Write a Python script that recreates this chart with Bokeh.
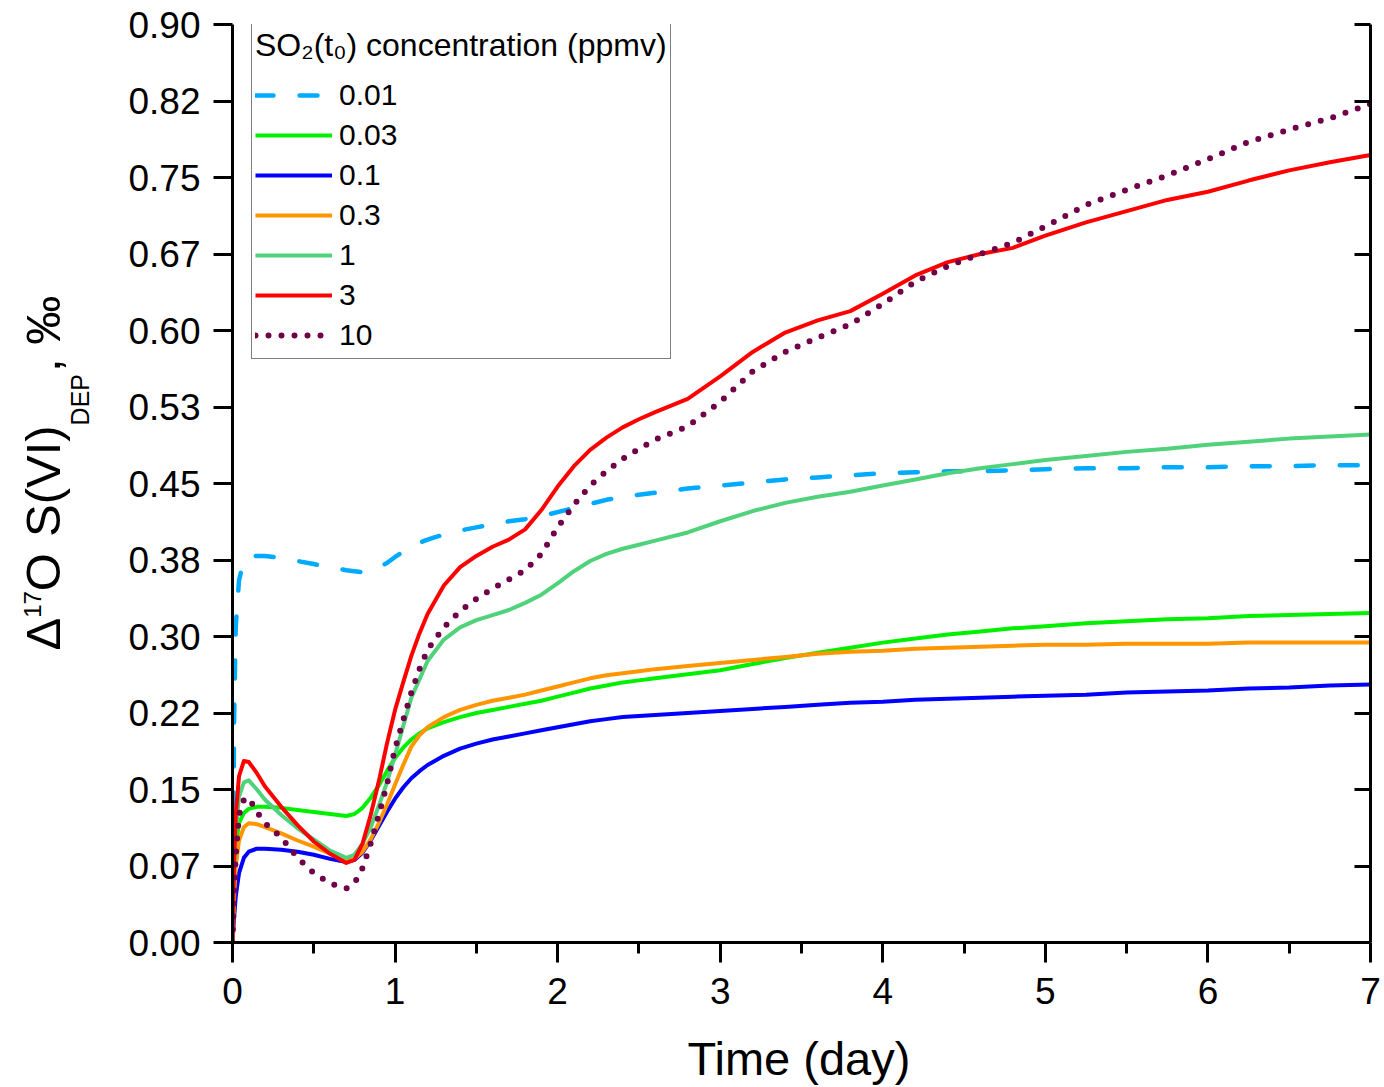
import math
from bokeh.plotting import figure
from bokeh.layouts import row, column
from bokeh.models import Range1d, LinearAxis, FixedTicker, Legend, LegendItem, Label
from bokeh.embed import file_html
from bokeh.resources import INLINE

# ---------------- data ----------------
time_day = [0, 0.01, 0.02, 0.04, 0.07, 0.1, 0.15, 0.2, 0.3, 0.4,
            0.5, 0.6, 0.7, 0.75, 0.8, 0.85, 0.9, 0.95, 1.0, 1.05,
            1.1, 1.15, 1.2, 1.3, 1.4, 1.5, 1.6, 1.7, 1.8, 1.9,
            2.0, 2.1, 2.2, 2.3, 2.4, 2.5, 2.6, 2.8, 3.0, 3.2,
            3.4, 3.6, 3.8, 4.0, 4.2, 4.4, 4.6, 4.8, 5.0, 5.25,
            5.5, 5.75, 6.0, 6.25, 6.5, 6.75, 7.0]

so2_0p01 = [0.0, 0.22, 0.31, 0.355, 0.375, 0.378, 0.379, 0.379, 0.377, 0.374,
            0.371, 0.368, 0.365, 0.364, 0.363, 0.364, 0.368, 0.372, 0.378, 0.383,
            0.388, 0.392, 0.395, 0.400, 0.404, 0.407, 0.410, 0.413, 0.415, 0.418,
            0.422, 0.426, 0.430, 0.434, 0.437, 0.439, 0.441, 0.445, 0.448, 0.451,
            0.454, 0.456, 0.458, 0.460, 0.461, 0.462, 0.462, 0.463, 0.464, 0.465,
            0.465, 0.466, 0.466, 0.467, 0.467, 0.468, 0.468]

so2_0p03 = [0.0, 0.06, 0.095, 0.117, 0.127, 0.131, 0.133, 0.133, 0.132, 0.130,
            0.128, 0.126, 0.124, 0.126, 0.132, 0.142, 0.154, 0.168, 0.181, 0.191,
            0.199, 0.205, 0.210, 0.216, 0.221, 0.225, 0.228, 0.231, 0.234, 0.237,
            0.241, 0.245, 0.249, 0.252, 0.255, 0.257, 0.259, 0.263, 0.267, 0.273,
            0.279, 0.284, 0.289, 0.294, 0.298, 0.302, 0.305, 0.308, 0.310, 0.313,
            0.315, 0.317, 0.318, 0.320, 0.321, 0.322, 0.323]

so2_0p1 = [0.0, 0.025, 0.045, 0.068, 0.083, 0.089, 0.092, 0.092, 0.091, 0.089,
           0.086, 0.082, 0.079, 0.081, 0.088, 0.100, 0.114, 0.128, 0.141, 0.152,
           0.161, 0.168, 0.174, 0.183, 0.190, 0.195, 0.199, 0.202, 0.205, 0.208,
           0.211, 0.214, 0.217, 0.219, 0.221, 0.222, 0.223, 0.225, 0.227, 0.229,
           0.231, 0.233, 0.235, 0.236, 0.238, 0.239, 0.240, 0.241, 0.242, 0.243,
           0.245, 0.246, 0.247, 0.249, 0.250, 0.252, 0.253]

so2_0p3 = [0.0, 0.045, 0.075, 0.100, 0.113, 0.117, 0.116, 0.113, 0.107, 0.100,
           0.094, 0.087, 0.080, 0.082, 0.089, 0.101, 0.117, 0.135, 0.155, 0.174,
           0.192, 0.203, 0.211, 0.221, 0.228, 0.233, 0.237, 0.240, 0.243, 0.247,
           0.251, 0.255, 0.259, 0.262, 0.264, 0.266, 0.268, 0.271, 0.274, 0.277,
           0.280, 0.283, 0.285, 0.286, 0.288, 0.289, 0.290, 0.291, 0.292, 0.292,
           0.293, 0.293, 0.293, 0.294, 0.294, 0.294, 0.294]

so2_1 = [0.0, 0.07, 0.11, 0.143, 0.157, 0.159, 0.150, 0.140, 0.125, 0.112,
         0.101, 0.090, 0.083, 0.086, 0.097, 0.113, 0.134, 0.157, 0.184, 0.212,
         0.240, 0.258, 0.276, 0.297, 0.309, 0.316, 0.321, 0.326, 0.333, 0.341,
         0.352, 0.364, 0.374, 0.381, 0.386, 0.390, 0.394, 0.402, 0.413, 0.423,
         0.431, 0.437, 0.442, 0.448, 0.454, 0.460, 0.465, 0.469, 0.473, 0.477,
         0.481, 0.484, 0.488, 0.491, 0.494, 0.496, 0.498]

so2_3 = [0.0, 0.08, 0.125, 0.163, 0.178, 0.177, 0.166, 0.153, 0.133, 0.115,
         0.099, 0.087, 0.078, 0.081, 0.097, 0.125, 0.158, 0.195, 0.228, 0.255,
         0.281, 0.303, 0.322, 0.350, 0.368, 0.379, 0.388, 0.395, 0.405, 0.424,
         0.447, 0.467, 0.483, 0.495, 0.505, 0.513, 0.520, 0.533, 0.555, 0.579,
         0.598, 0.610, 0.619, 0.636, 0.654, 0.667, 0.675, 0.681, 0.693, 0.706,
         0.717, 0.728, 0.736, 0.747, 0.757, 0.765, 0.772]

so2_10 = [0.0, 0.05, 0.085, 0.125, 0.140, 0.142, 0.128, 0.117, 0.103, 0.083,
          0.068, 0.058, 0.053, 0.058, 0.073, 0.097, 0.125, 0.155, 0.190, 0.218,
          0.245, 0.268, 0.287, 0.309, 0.325, 0.337, 0.347, 0.356, 0.365, 0.381,
          0.407, 0.429, 0.448, 0.462, 0.474, 0.484, 0.493, 0.506, 0.530, 0.560,
          0.579, 0.593, 0.606, 0.626, 0.648, 0.663, 0.675, 0.686, 0.702, 0.723,
          0.738, 0.752, 0.768, 0.785, 0.797, 0.808, 0.822]

series_labels = ["0.01", "0.03", "0.1", "0.3", "1", "3", "10"]
series_values = [so2_0p01, so2_0p03, so2_0p1, so2_0p3, so2_1, so2_3, so2_10]

y_ticks = [0.0, 0.075, 0.15, 0.225, 0.3, 0.375, 0.45, 0.525, 0.6, 0.675, 0.75, 0.825, 0.9]
y_tick_labels = ["0.00", "0.07", "0.15", "0.22", "0.30", "0.38", "0.45",
                 "0.53", "0.60", "0.67", "0.75", "0.82", "0.90"]
x_ticks = [0, 1, 2, 3, 4, 5, 6, 7]
x_minor_ticks = [0.5, 1.5, 2.5, 3.5, 4.5, 5.5, 6.5]

legend_title = "SO\u2082(t\u2080) concentration (ppmv)"
x_title = "Time (day)"

# ---------------- styles ----------------
FONT = "Liberation Sans"
styles = [
    dict(color="#00AAFF", width=4.5, dash="18 26", cap="round"),
    dict(color="#00F000", width=4, dash="solid", cap="butt"),
    dict(color="#0000FF", width=4, dash="solid", cap="butt"),
    dict(color="#FF9600", width=4, dash="solid", cap="butt"),
    dict(color="#50D27A", width=4, dash="solid", cap="butt"),
    dict(color="#FF0000", width=4, dash="solid", cap="butt"),
    dict(color="#700048", width=6, dash="0 13", cap="round"),
]

LEFT_W = 100          # strip holding the rotated y title
BOTTOM_H = 62         # strip holding the x title
MAIN_W = 1384 - LEFT_W
MAIN_H = 1087 - BOTTOM_H
BORDER_L = 232 - LEFT_W
BORDER_R = 14

p = figure(width=MAIN_W, height=MAIN_H,
           x_range=Range1d(0, 7), y_range=Range1d(0, 0.9),
           output_backend="svg", toolbar_location=None,
           min_border_left=BORDER_L, min_border_right=BORDER_R,
           min_border_top=24, min_border_bottom=MAIN_H - 24 - 918)
p.outline_line_color = None
p.grid.visible = False
p.background_fill_color = "white"

items = []
for lab, vals, st in zip(series_labels, series_values, styles):
    r = p.line(time_day, vals, line_color=st["color"], line_width=st["width"],
               line_dash=st["dash"], line_cap=st["cap"], line_join="round")
    items.append(LegendItem(label=lab, renderers=[r]))

# bottom axis
xa = p.xaxis[0]
xa.ticker = FixedTicker(ticks=x_ticks, minor_ticks=x_minor_ticks)
xa.axis_line_width = 3
xa.axis_line_color = "black"
xa.major_tick_line_width = 3
xa.minor_tick_line_width = 3
xa.major_tick_out = 20
xa.major_tick_in = 0
xa.minor_tick_out = 11
xa.minor_tick_in = 0
xa.major_label_text_font = FONT
xa.major_label_text_font_size = "37px"
xa.major_label_text_color = "black"
xa.major_label_standoff = 15

# left axis
ya = p.yaxis[0]
ya.ticker = FixedTicker(ticks=y_ticks, minor_ticks=[])
ya.major_label_overrides = {t: s for t, s in zip(y_ticks, y_tick_labels)}
ya.axis_line_width = 3
ya.axis_line_color = "black"
ya.major_tick_line_width = 3
ya.major_tick_out = 19
ya.major_tick_in = 0
ya.minor_tick_out = 0
ya.minor_tick_in = 0
ya.major_label_text_font = FONT
ya.major_label_text_font_size = "37px"
ya.major_label_text_color = "black"
ya.major_label_standoff = 13

# right axis (ticks pointing inward, no labels)
ra = LinearAxis(ticker=FixedTicker(ticks=y_ticks, minor_ticks=[]),
                major_label_overrides={t: "" for t in y_ticks},
                axis_line_width=3, axis_line_color="black",
                major_tick_line_width=3, major_tick_in=16, major_tick_out=0,
                minor_tick_in=0, minor_tick_out=0, major_label_standoff=0)
p.add_layout(ra, "right")

# legend
legend = Legend(items=items, location=(19, 583), title=legend_title,
                title_text_font=FONT, title_text_font_size="32px",
                title_text_font_style="normal", title_text_color="black",
                title_standoff=11,
                label_text_font=FONT, label_text_font_size="30px",
                label_text_color="black",
                border_line_color="black", border_line_width=1.5,
                background_fill_color="white", background_fill_alpha=1.0,
                padding=3, spacing=0, margin=0,
                glyph_width=77, glyph_height=40, label_height=40,
                label_standoff=7)
p.add_layout(legend)

# ---------------- strip for the rotated y title ----------------
ylab = figure(width=LEFT_W, height=1087, x_range=Range1d(0, LEFT_W),
              y_range=Range1d(0, 1087), x_axis_type=None, y_axis_type=None,
              output_backend="svg", toolbar_location=None, min_border=0)
ylab.outline_line_color = None
ylab.grid.visible = False

adv = {"Δ": 0.667, "0": 0.556, "1": 0.556, "7": 0.556, "O": 0.778, " ": 0.278,
       "S": 0.667, "(": 0.333, "V": 0.667, "I": 0.278, ")": 0.333, "D": 0.722,
       "E": 0.667, "P": 0.667, ",": 0.278, "‰": 1.0}
# (text, font size, x of the text's middle line, extra gap after)
pieces = [("Δ", 49, 42, 0), ("17", 24, 32, 0), ("O", 49, 42, 16),
          ("S(VI)", 49, 42, 0), ("DEP", 25, 79, 2), (", ‰", 49, 42, 0)]
ypos = 1087 - 650
for txt, fs, bx, gap in pieces:
    ylab.add_layout(Label(x=bx, y=ypos, text=txt, text_font=FONT,
                          text_font_size=f"{fs}px", angle=math.pi / 2,
                          text_align="left", text_baseline="middle",
                          text_color="black"))
    ypos += sum(adv[c] for c in txt) * fs + gap

# ---------------- strip for the x title (frame aligned with the main frame) ----------------
xlab = figure(width=MAIN_W, height=BOTTOM_H, x_range=Range1d(232, 1370),
              y_range=Range1d(0, BOTTOM_H), x_axis_type=None, y_axis_type=None,
              output_backend="svg", toolbar_location=None,
              min_border_left=BORDER_L, min_border_right=BORDER_R,
              min_border_top=0, min_border_bottom=0)
xlab.outline_line_color = None
xlab.grid.visible = False
xlab.add_layout(Label(x=687, y=29, text=x_title, text_font=FONT,
                      text_font_size="47px", text_align="left",
                      text_baseline="middle", text_color="black"))

layout = row(ylab, column(p, xlab, spacing=0), spacing=0)
open("out.html", "w").write(file_html(layout, INLINE))
